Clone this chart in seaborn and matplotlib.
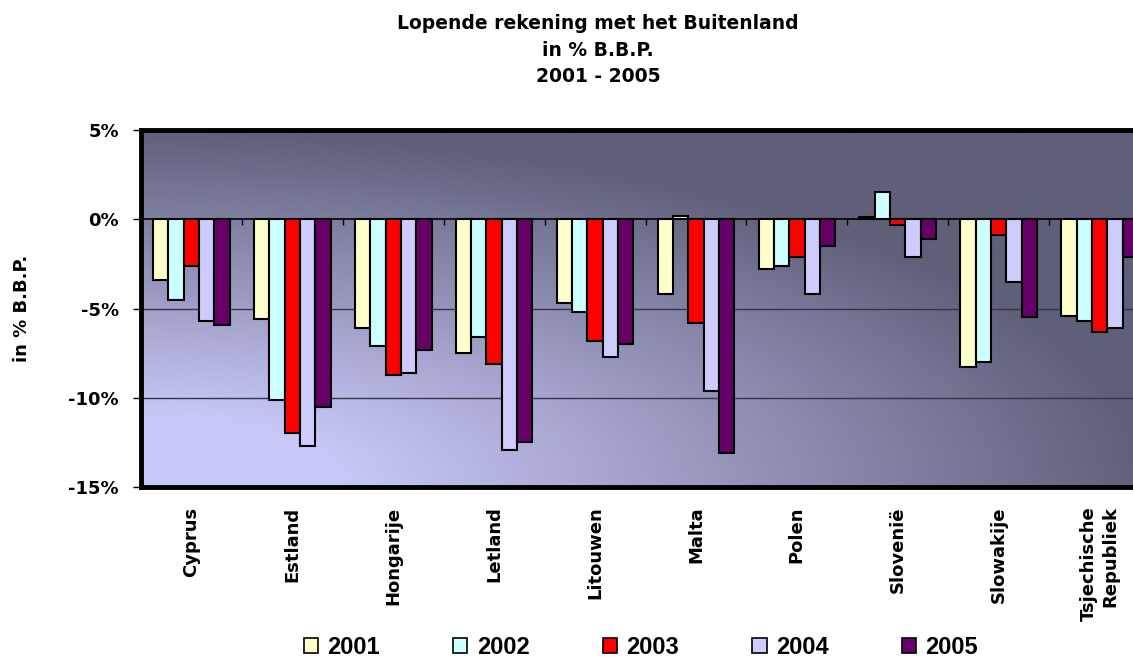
import numpy as np
import pandas as pd
import matplotlib
matplotlib.use("Agg")
import matplotlib.pyplot as plt
import matplotlib.patches as mpatches
import seaborn as sns

countries = ["Cyprus", "Estland", "Hongarije", "Letland", "Litouwen", "Malta",
             "Polen", "Slovenië", "Slowakije", "Tsjechische\nRepubliek"]
years = ["2001", "2002", "2003", "2004", "2005"]
v2001 = [-3.4, -5.6, -6.1, -7.5, -4.7, -4.2, -2.8, 0.1, -8.3, -5.4]
v2002 = [-4.5, -10.1, -7.1, -6.6, -5.2, 0.2, -2.6, 1.5, -8.0, -5.7]
v2003 = [-2.6, -12.0, -8.7, -8.1, -6.8, -5.8, -2.1, -0.3, -0.9, -6.3]
v2004 = [-5.7, -12.7, -8.6, -12.9, -7.7, -9.6, -4.2, -2.1, -3.5, -6.1]
v2005 = [-5.9, -10.5, -7.3, -12.5, -7.0, -13.1, -1.5, -1.1, -5.5, -2.1]
yticks = [5, 0, -5, -10, -15]
ytick_labels = ["5%", "0%", "-5%", "-10%", "-15%"]
colors = ["#FFFFCC", "#CCFFFF", "#FF0000", "#CCCCFF", "#660066"]

series = [v2001, v2002, v2003, v2004, v2005]
df = pd.DataFrame({
    "country": np.repeat([countries], len(years), axis=0).ravel(),
    "year": np.repeat(years, len(countries)),
    "value": np.concatenate(series),
})

sns.set_style("white")
plt.rcParams["font.family"] = ["DejaVu Sans"]
plt.rcParams["font.weight"] = "bold"
for k in ["text.color", "axes.labelcolor", "xtick.color", "ytick.color"]:
    plt.rcParams[k] = "black"

W, H = 1133, 657
fig = plt.figure(figsize=(W / 100, H / 100), dpi=100)
left, right, top, bottom = 141, 1150, 130, 487
ax = fig.add_axes([left / W, 1 - bottom / H, (right - left) / W, (bottom - top) / H])

# background gradient (radial from bottom-left)
n = len(countries)
gx = np.linspace(0, 1, 400)
gy = np.linspace(0, 1, 200)
X, Y = np.meshgrid(gx, gy)
t = np.clip((np.sqrt(X ** 2 + Y ** 2) - 0.2) / 0.8, 0, 1)
light = np.array([200, 200, 248]) / 255
dark = np.array([95, 95, 122]) / 255
img = light[None, None, :] * (1 - t[..., None]) + dark[None, None, :] * t[..., None]
ax.imshow(img, extent=(-0.5, n - 0.5, -15, 5), origin="lower", aspect="auto", zorder=0)

sns.barplot(data=df, x="country", y="value", hue="year", hue_order=years,
            palette=colors, width=0.76, saturation=1, edgecolor="black",
            linewidth=1.5, ax=ax, legend=False, zorder=3)

ax.set_xlim(-0.5, n - 0.5)
ax.set_ylim(-15, 5)
ax.set_yticks(yticks)
ax.set_yticklabels(ytick_labels, fontsize=13, fontweight="bold")
for yv in [-5, -10]:
    ax.axhline(yv, color="#35354a", lw=1.0, zorder=1)
ax.axhline(0, color="black", lw=1.2, zorder=4)
ax.vlines(np.arange(n - 1) + 0.5, -0.35, 0, color="black", lw=1, zorder=4)

ax.tick_params(axis="y", length=6, width=1, pad=10, direction="out", left=True, color="black")
ax.tick_params(axis="x", length=0, pad=14)
ax.set_xticks(range(n))
ax.set_xticklabels(countries, rotation=90, fontsize=13, fontweight="bold",
                   ha="center", va="top", multialignment="right")
ax.set_xlabel("")
ax.set_ylabel("")
for s in ax.spines.values():
    s.set_visible(True)
    s.set_color("black")
    s.set_linewidth(3.5)

fig.text(22 / W, 1 - 308 / H, "in % B.B.P.", rotation=90, ha="center", va="center",
         fontsize=13, fontweight="bold")
fig.text(598 / W, 1 - 14 / H, "Lopende rekening met het Buitenland\nin % B.B.P.\n2001 - 2005",
         ha="center", va="top", fontsize=13.5, fontweight="bold", linespacing=1.5)

handles = [mpatches.Patch(facecolor=c, edgecolor="black", linewidth=1.2, label=y)
           for c, y in zip(colors, years)]
fig.legend(handles=handles, loc="center", bbox_to_anchor=(641 / W, 1 - 647 / H), ncol=5,
           frameon=False, prop={"family": "Liberation Sans", "weight": "bold", "size": 17},
           handlelength=0.6, handleheight=0.6, handletextpad=0.4, columnspacing=3.1,
           borderpad=0, borderaxespad=0)

fig.savefig("out.png", dpi=100)
